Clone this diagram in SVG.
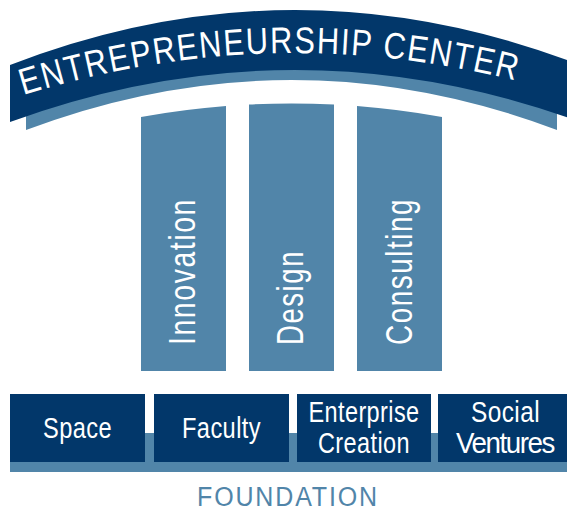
<svg xmlns="http://www.w3.org/2000/svg" width="567" height="515" viewBox="0 0 567 515">
<defs>
<style>
.dark{fill:#02376A}
.light{fill:#5185A9}
.t{font-family:"Liberation Sans",Arial,sans-serif;fill:#fff}
.found{font-family:"Liberation Sans",Arial,sans-serif;fill:#5185A9}
</style>
<path id="arcText" d="M10,99.3 Q295,6.7 580,99.3" fill="none"/>
</defs>
<rect width="567" height="515" fill="#fff"/>
<g id="banner">
<path class="light" d="M26,110 Q291.5,10 557,110 L557,130 Q291.5,30 26,130 Z"/>
<path class="dark" d="M10,65 Q295,-45 580,65 L580,122 Q295,18 10,122 Z"/>
<text class="t" font-size="37" letter-spacing="2"><textPath href="#arcText" startOffset="14" textLength="500" lengthAdjust="spacingAndGlyphs">ENTREPRENEURSHIP CENTER</textPath></text>
</g>
<g id="pillar-innovation">
<path class="light" d="M141,117 Q183.5,109.38 226,106.06 L226,371 L141,371 Z"/>
<text class="t" font-size="36" letter-spacing="2" transform="translate(195,345) rotate(-90)" textLength="147" lengthAdjust="spacingAndGlyphs">Innovation</text>
</g>
<g id="pillar-design">
<path class="light" d="M249,104.58 Q291.5,102.43 334,104.58 L334,371 L249,371 Z"/>
<text class="t" font-size="36" letter-spacing="2" transform="translate(303,345) rotate(-90)" textLength="95" lengthAdjust="spacingAndGlyphs">Design</text>
</g>
<g id="pillar-consulting">
<path class="light" d="M357,106.06 Q399.5,109.38 442,117 L442,371 L357,371 Z"/>
<text class="t" font-size="36" letter-spacing="2" transform="translate(411.5,345) rotate(-90)" textLength="147" lengthAdjust="spacingAndGlyphs">Consulting</text>
</g>
<g id="foundation">
<rect class="light" x="10" y="433" width="557" height="39"/>
<text class="found" x="288" y="506" font-size="27" letter-spacing="2" text-anchor="middle" textLength="182" lengthAdjust="spacingAndGlyphs">FOUNDATION</text>
</g>
<g id="box-space">
<rect class="dark" x="10" y="394" width="135" height="68"/>
<text class="t" x="77.5" y="438" font-size="29" letter-spacing="0.5" text-anchor="middle" textLength="69" lengthAdjust="spacingAndGlyphs">Space</text>
</g>
<g id="box-faculty">
<rect class="dark" x="154" y="394" width="135" height="68"/>
<text class="t" x="221.5" y="438" font-size="29" letter-spacing="0.5" text-anchor="middle" textLength="79" lengthAdjust="spacingAndGlyphs">Faculty</text>
</g>
<g id="box-enterprise-creation">
<rect class="dark" x="297" y="394" width="134" height="68"/>
<text class="t" x="364" y="421.5" font-size="29" letter-spacing="0.5" text-anchor="middle" textLength="111" lengthAdjust="spacingAndGlyphs">Enterprise</text>
<text class="t" x="364" y="453" font-size="29" letter-spacing="0.5" text-anchor="middle" textLength="92" lengthAdjust="spacingAndGlyphs">Creation</text>
</g>
<g id="box-social-ventures">
<rect class="dark" x="438" y="394" width="129" height="68"/>
<text class="t" x="505.5" y="421.5" font-size="29" letter-spacing="0.5" text-anchor="middle" textLength="69" lengthAdjust="spacingAndGlyphs">Social</text>
<text class="t" x="505" y="453" font-size="29" letter-spacing="-1.5" text-anchor="middle" textLength="98" lengthAdjust="spacingAndGlyphs">Ventures</text>
</g>
<g id="connectors"/>
</svg>
